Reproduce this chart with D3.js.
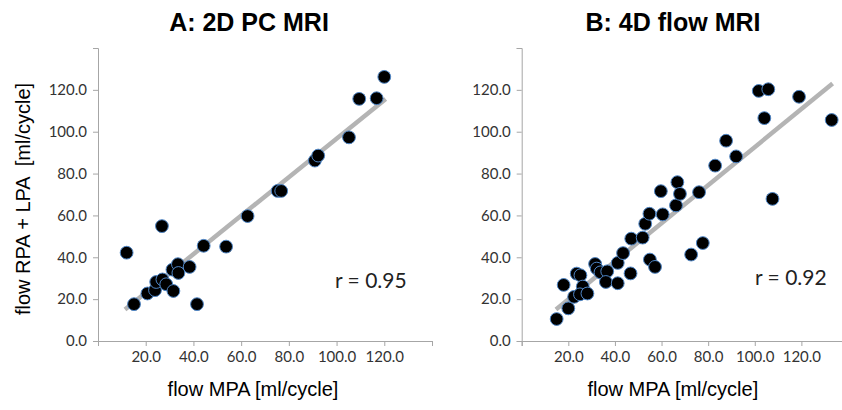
<!DOCTYPE html>
<html>
<head>
<meta charset="utf-8">
<script src="https://d3js.org/d3.v7.min.js"></script>
<style>
    body { margin: 0; background: #fff; }
    .tick text { font-family: Lato, "Open Sans", sans-serif; font-size: 15px; fill: #333; }
    .domain, .tick line { stroke: #a6a6a6; }
</style>
</head>
<body>
<svg id="chart" width="842" height="410"></svg>
<script>
// panel A: 2D PC MRI
const aFlowMPA = [12.0, 15.1, 20.7, 23.9, 24.4, 26.8, 27.0, 28.6, 31.6, 31.2, 33.5, 33.7, 38.4,
                  41.5, 44.3, 53.7, 62.7, 75.3, 76.8, 90.9, 92.3, 105.2, 109.5, 116.8, 120.0];
const aFlowBranches = [42.2, 17.6, 22.7, 24.3, 28.2, 54.9, 29.4, 27.1, 23.9, 34.1, 36.7, 32.5, 35.4,
                       17.6, 45.5, 45.1, 59.7, 71.7, 71.7, 86.2, 88.6, 97.3, 115.7, 116.0, 126.2];
const aFitX = [11.3, 120.6];
const aFitY = [15.1, 115.6];

// panel B: 4D flow MRI
const bFlowMPA = [15.0, 18.0, 20.0, 22.5, 23.6, 25.2, 26.2, 25.0, 28.2, 31.5, 32.2, 33.8, 36.7, 36.1,
                  41.2, 41.2, 43.5, 46.7, 47.0, 51.9, 53.0, 54.8, 55.0, 57.2, 59.7, 60.5, 66.2, 66.8,
                  67.9, 72.7, 76.1, 77.7, 83.0, 87.7, 92.0, 101.7, 105.8, 104.1, 107.6, 119.0, 133.0];
const bFlowBranches = [10.5, 26.8, 15.6, 21.1, 32.2, 31.4, 26.0, 22.3, 22.7, 36.8, 34.6, 32.8, 33.3, 28.2,
                       27.6, 37.3, 42.0, 32.3, 48.9, 49.4, 56.0, 60.8, 38.9, 35.4, 71.6, 60.5, 64.8, 75.9,
                       70.3, 41.3, 71.1, 46.8, 83.8, 95.7, 88.2, 119.5, 120.3, 106.5, 67.9, 116.7, 105.6];
const bFitX = [14.7, 133.4];
const bFitY = [15.1, 123.0];

const axisTicks = [0, 20, 40, 60, 80, 100, 120, 140];
const xTickLabels = [20, 40, 60, 80, 100, 120];
const yTickLabels = [0, 20, 40, 60, 80, 100, 120];

const svg = d3.select("#chart");
const fmt = d3.format(".1f");

function drawPanel(opts) {
    const x = d3.scaleLinear().domain([0, 140]).range([opts.left, opts.right]);
    const y = d3.scaleLinear().domain([0, 140]).range([341, 48]);
    const g = svg.append("g");

    g.append("g")
        .attr("transform", "translate(0,341)")
        .call(d3.axisBottom(x).tickValues(axisTicks).tickSizeOuter(0).tickSize(5).tickPadding(5)
            .tickFormat(d => xTickLabels.includes(d) ? fmt(d) : ""));

    g.append("g")
        .attr("transform", "translate(" + opts.left + ",0)")
        .call(d3.axisLeft(y).tickValues(axisTicks).tickSizeOuter(0).tickSize(5).tickPadding(6)
            .tickFormat(d => yTickLabels.includes(d) ? fmt(d) : ""));

    // trend line
    g.append("line")
        .attr("x1", x(opts.fitX[0])).attr("y1", y(opts.fitY[0]))
        .attr("x2", x(opts.fitX[1])).attr("y2", y(opts.fitY[1]))
        .attr("stroke", "#b4b4b4")
        .attr("stroke-width", 4.5);

    g.selectAll("circle")
        .data(opts.xs)
        .enter()
        .append("circle")
        .attr("cx", d => x(d))
        .attr("cy", (d, i) => y(opts.ys[i]))
        .attr("r", 6.4)
        .attr("fill", "#000")
        .attr("stroke", "#4f86c6")
        .attr("stroke-width", 1);

    g.append("text")
        .attr("x", opts.titleX).attr("y", 31)
        .attr("text-anchor", "middle")
        .style("font-family", "'Liberation Sans', Arial, sans-serif")
        .style("font-weight", "bold")
        .style("font-size", "25px")
        .text(opts.title);

    g.append("text")
        .attr("x", (opts.left + opts.right) / 2 - 12).attr("y", 396)
        .attr("text-anchor", "middle")
        .style("font-family", "'Liberation Sans', Arial, sans-serif")
        .style("font-size", "20px")
        .text("flow MPA [ml/cycle]");

    g.append("text")
        .attr("x", opts.rX).attr("y", opts.rY)
        .style("font-family", "Lato, sans-serif")
        .style("font-size", "21px")
        .style("fill", "#222")
        .text(opts.rText);
}

drawPanel({ left: 98, right: 432, xs: aFlowMPA, ys: aFlowBranches, fitX: aFitX, fitY: aFitY,
            title: "A: 2D PC MRI", titleX: 249, rText: "r = 0.95", rX: 335, rY: 288 });
drawPanel({ left: 521.7, right: 848, xs: bFlowMPA, ys: bFlowBranches, fitX: bFitX, fitY: bFitY,
            title: "B: 4D flow MRI", titleX: 673, rText: "r = 0.92", rX: 755, rY: 285 });

svg.append("text")
    .attr("transform", "translate(30,199) rotate(-90)")
    .attr("text-anchor", "middle")
    .style("font-family", "'Liberation Sans', Arial, sans-serif")
    .style("font-size", "20px")
    .style("white-space", "pre")
    .text("flow RPA + LPA  [ml/cycle]");
</script>
</body>
</html>
